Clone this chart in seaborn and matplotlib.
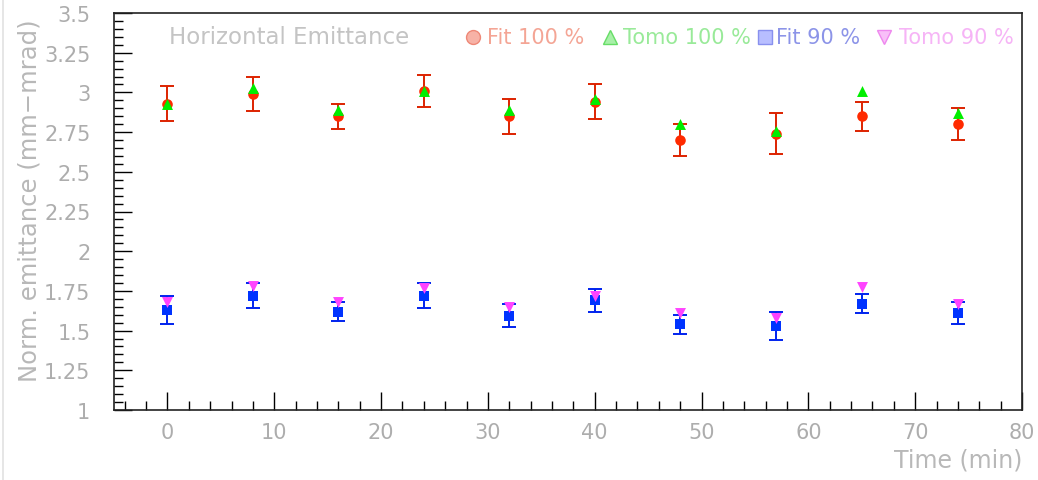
import matplotlib
matplotlib.use("Agg")
import matplotlib.pyplot as plt
from matplotlib.lines import Line2D
from matplotlib.ticker import MultipleLocator, FuncFormatter
import numpy as np
import pandas as pd
import seaborn as sns

# Measurement times (min)
time_min = [0, 8, 16, 24, 32, 40, 48, 57, 65, 74]

# 100 % beam fraction: fit values with error-bar ends, and tomography values
fit100 = [2.93, 2.99, 2.85, 3.01, 2.85, 2.94, 2.70, 2.74, 2.85, 2.80]
fit100_low = [2.82, 2.88, 2.77, 2.91, 2.74, 2.83, 2.60, 2.61, 2.76, 2.70]
fit100_high = [3.04, 3.10, 2.93, 3.11, 2.96, 3.05, 2.80, 2.87, 2.94, 2.90]
tomo100 = [2.93, 3.03, 2.89, 3.01, 2.89, 2.96, 2.80, 2.76, 3.01, 2.87]

# 90 % beam fraction
fit90 = [1.63, 1.72, 1.62, 1.72, 1.59, 1.69, 1.54, 1.53, 1.67, 1.61]
fit90_low = [1.54, 1.64, 1.56, 1.64, 1.52, 1.62, 1.48, 1.44, 1.61, 1.54]
fit90_high = [1.72, 1.80, 1.68, 1.80, 1.665, 1.76, 1.60, 1.62, 1.73, 1.68]
tomo90 = [1.68, 1.78, 1.68, 1.77, 1.65, 1.72, 1.61, 1.58, 1.775, 1.67]

series_labels = ["Fit 100 %", "Tomo 100 %", "Fit 90 %", "Tomo 90 %"]

sns.set_theme(style="white")
plt.rcParams["font.family"] = ["DejaVu Sans"]

W, H = 1038, 481
fig = plt.figure(figsize=(W / 100, H / 100), dpi=100)
fig.patch.set_facecolor("white")
ax = fig.add_axes([114 / W, 1 - 411 / H, 908 / W, 397 / H])
ax.set_facecolor("white")

df = pd.DataFrame({
    "time": time_min * 4,
    "value": fit100 + tomo100 + fit90 + tomo90,
    "series": np.repeat(series_labels, len(time_min)),
})

RED, GREEN, BLUE, MAGENTA = "#ff2a00", "#00ee00", "#0033ff", "#ff44ff"
styles = {
    "Fit 100 %": dict(color=RED, marker="o", s=58),
    "Tomo 100 %": dict(color=GREEN, marker="^", s=62),
    "Fit 90 %": dict(color=BLUE, marker="s", s=50),
    "Tomo 90 %": dict(color=MAGENTA, marker="v", s=62),
}

# Error bars of the fit results
fit100_arr = np.array(fit100)
fit90_arr = np.array(fit90)
ax.errorbar(time_min, fit100, yerr=[fit100_arr - np.array(fit100_low), np.array(fit100_high) - fit100_arr],
            fmt="none", ecolor="#dd2200", elinewidth=1.4, capsize=5, capthick=1.4, zorder=2)
ax.errorbar(time_min, fit90, yerr=[fit90_arr - np.array(fit90_low), np.array(fit90_high) - fit90_arr],
            fmt="none", ecolor="#0022ee", elinewidth=1.4, capsize=5, capthick=1.4, zorder=2)

for z, name in enumerate(series_labels):
    st = styles[name]
    sns.scatterplot(data=df[df["series"] == name], x="time", y="value", ax=ax,
                    color=st["color"], marker=st["marker"], s=st["s"],
                    linewidth=0, zorder=3 + z, legend=False)

ax.set_xlim(-5, 80)
ax.set_ylim(1, 3.5)
ax.xaxis.set_major_locator(MultipleLocator(10))
ax.xaxis.set_minor_locator(MultipleLocator(2))
ax.yaxis.set_major_locator(MultipleLocator(0.25))
ax.yaxis.set_minor_locator(MultipleLocator(0.05))
ax.yaxis.set_major_formatter(FuncFormatter(lambda v, p: f"{v:g}"))
ax.xaxis.set_major_formatter(FuncFormatter(lambda v, p: f"{v:g}"))

LABEL_GREY = "#adadad"
ax.tick_params(which="both", direction="in", color="black", width=1.0,
               top=False, right=False, left=True, bottom=True,
               labelcolor=LABEL_GREY, labelsize=15)
ax.tick_params(which="major", length=13)
ax.tick_params(which="minor", length=6.5)
ax.tick_params(axis="y", which="major", pad=17)
ax.tick_params(axis="x", which="major", pad=8.5)

for sp in ax.spines.values():
    sp.set_visible(True)
    sp.set_color("#222222")
    sp.set_linewidth(1.2)

ax.set_ylabel("Norm. emittance (mm\u2212mrad)", fontsize=17.5, color="#b8b8b8")
ax.yaxis.set_label_coords((42 - 114) / 908, 0.53)
ax.set_xlabel("Time (min)", fontsize=17, color="#b8b8b8", loc="right")
ax.xaxis.set_label_coords(1.0, (411 - 449) / 397)

# In-frame title and legend row
ty = (411 - 38) / 397
ax.text((169 - 114) / 908, ty, "Horizontal Emittance", transform=ax.transAxes,
        fontsize=16.5, color="#c4c4c4", ha="left", va="center")

legend_items = [
    ("Fit 100 %", "o", "#f7b2a6", "#ee8877", "#f4a595", 473, 487),
    ("Tomo 100 %", "^", "#a8f0a8", "#66dd66", "#99ea99", 610, 623),
    ("Fit 90 %", "s", "#b8beff", "#8890ee", "#8c94e8", 765, 776),
    ("Tomo 90 %", "v", "#f8bff8", "#ee88ee", "#f6b4f6", 884, 899),
]
for text, mk, face, edge, tcol, mx, tx in legend_items:
    ax.plot([(mx - 114) / 908], [ty], marker=mk, markersize=10, markerfacecolor=face,
            markeredgecolor=edge, markeredgewidth=1.0, linestyle="none",
            transform=ax.transAxes, clip_on=False, zorder=10)
    ax.text((tx - 114) / 908, ty, text, transform=ax.transAxes, fontsize=15,
            color=tcol, ha="left", va="center")

# Thin frame line at the left edge of the canvas
fig.add_artist(Line2D([3 / W, 3 / W], [0, 1], transform=fig.transFigure,
                      color="#e2e2e2", linewidth=1.2))

fig.savefig("out.png", dpi=100, facecolor="white")
